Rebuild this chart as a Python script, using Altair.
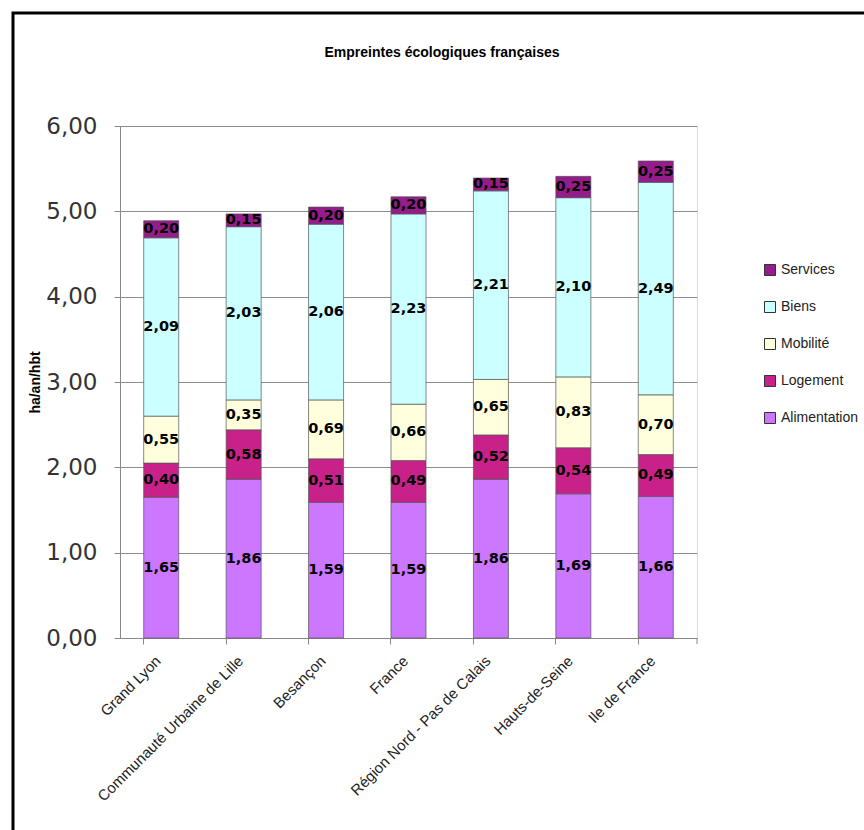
import altair as alt
import pandas as pd

# Ecological footprint per inhabitant (ha/an/hbt), broken down by item
regions = ["Grand Lyon", "Communauté Urbaine de Lille", "Besançon", "France",
           "Région Nord - Pas de Calais", "Hauts-de-Seine", "Ile de France"]
postes = ["Alimentation", "Logement", "Mobilité", "Biens", "Services"]
alimentation = [1.65, 1.86, 1.59, 1.59, 1.86, 1.69, 1.66]
logement = [0.40, 0.58, 0.51, 0.49, 0.52, 0.54, 0.49]
mobilite = [0.55, 0.35, 0.69, 0.66, 0.65, 0.83, 0.70]
biens = [2.09, 2.03, 2.06, 2.23, 2.21, 2.10, 2.49]
services = [0.20, 0.15, 0.20, 0.20, 0.15, 0.25, 0.25]
couleurs = ["#CC77FF", "#C8228A", "#FFFFDD", "#CCFFFF", "#951C8B"]
titre = "Empreintes écologiques françaises"

series = [alimentation, logement, mobilite, biens, services]
rows = []
for rang, (poste, vals) in enumerate(zip(postes, series)):
    for region, v in zip(regions, vals):
        rows.append({"region": region, "poste": poste, "rang": rang, "valeur": v})
df = pd.DataFrame(rows)

SANS = "Liberation Sans, Arial, sans-serif"
VERDANA = "DejaVu Sans, Verdana, sans-serif"
comma_fmt = "replace(format(datum.value, '.2f'), '.', ',')"

legend_order = postes[::-1]
legend_colors = couleurs[::-1]

base = alt.Chart(df).transform_stack(
    stack="valeur",
    groupby=["region"],
    as_=["v0", "v1"],
    sort=[alt.SortField("rang", order="ascending")],
).transform_calculate(
    mid="(datum.v0 + datum.v1) / 2",
    etiquette="replace(format(datum.valeur, '.2f'), '.', ',')",
)

x_enc = alt.X(
    "region:N",
    sort=regions,
    title=None,
    scale=alt.Scale(paddingInner=0.575, paddingOuter=0.2875),
    axis=alt.Axis(
        bandPosition=0,
        labelOffset=-3,
        labelAngle=-45,
        labelAlign="right",
        labelBaseline="middle",
        labelFont=SANS,
        labelFontSize=15,
        labelColor="#222222",
        labelPadding=14,
        tickSize=6,
        tickColor="#888888",
        domainColor="#888888",
        grid=False,
        labelLimit=400,
    ),
)

bars = base.mark_bar(stroke="#555555", strokeWidth=0.7).encode(
    x=x_enc,
    y=alt.Y(
        "v0:Q",
        scale=alt.Scale(domain=[0, 6], nice=False),
        axis=alt.Axis(
            values=[0, 1, 2, 3, 4, 5, 6],
            labelExpr=comma_fmt,
            title="ha/an/hbt",
            titleFont=SANS,
            titleFontSize=14,
            titleFontWeight="bold",
            titleColor="#000000",
            titlePadding=3,
            labelFont=VERDANA,
            labelFontSize=23,
            labelColor="#333333",
            labelPadding=17,
            tickSize=6,
            tickColor="#888888",
            domainColor="#888888",
            gridColor="#8c8c8c",
            grid=True,
        ),
    ),
    y2="v1:Q",
    color=alt.Color(
        "poste:N",
        scale=alt.Scale(domain=legend_order, range=legend_colors),
        legend=alt.Legend(
            title=None,
            orient="none",
            legendX=643,
            legendY=137,
            symbolType="square",
            symbolSize=121,
            symbolStrokeColor="#333333",
            symbolStrokeWidth=1,
            symbolOpacity=1,
            labelFont=SANS,
            labelFontSize=14,
            labelColor="#222222",
            labelOffset=4,
            rowPadding=21,
            padding=0,
        ),
    ),
)

labels = base.mark_text(
    font=VERDANA, fontWeight="bold", fontSize=14.5, color="#000000"
).encode(
    x=alt.X("region:N", sort=regions),
    y=alt.Y("mid:Q"),
    text="etiquette:N",
)

deco = alt.Chart(alt.Data(values=[{"t": titre}]))

# outer frame around the figure
frame = deco.mark_rect(
    filled=False, stroke="#000000", strokeWidth=3
).encode(
    x=alt.value(-107), x2=alt.value(800),
    y=alt.value(-113), y2=alt.value(800),
)

# closing tick at the right end of the category axis
end_tick = deco.mark_rule(color="#888888").encode(
    x=alt.value(577), y=alt.value(512), y2=alt.value(518),
)

# chart heading
heading = deco.mark_text(
    font=SANS, fontSize=14, fontWeight="bold", color="#000000",
    align="center", baseline="middle",
).encode(
    x=alt.value(322), y=alt.value(-73), text="t:N",
)

chart = alt.layer(bars, labels, frame, end_tick, heading).properties(
    width=577,
    height=512,
    padding={"left": 120, "top": 126, "right": 167, "bottom": 192},
    autosize=alt.AutoSizeParams(type="none"),
).configure_view(stroke="#b0b0b0").configure(background="white")

chart.save("out.html", embed_options={"renderer": "svg", "actions": False})
